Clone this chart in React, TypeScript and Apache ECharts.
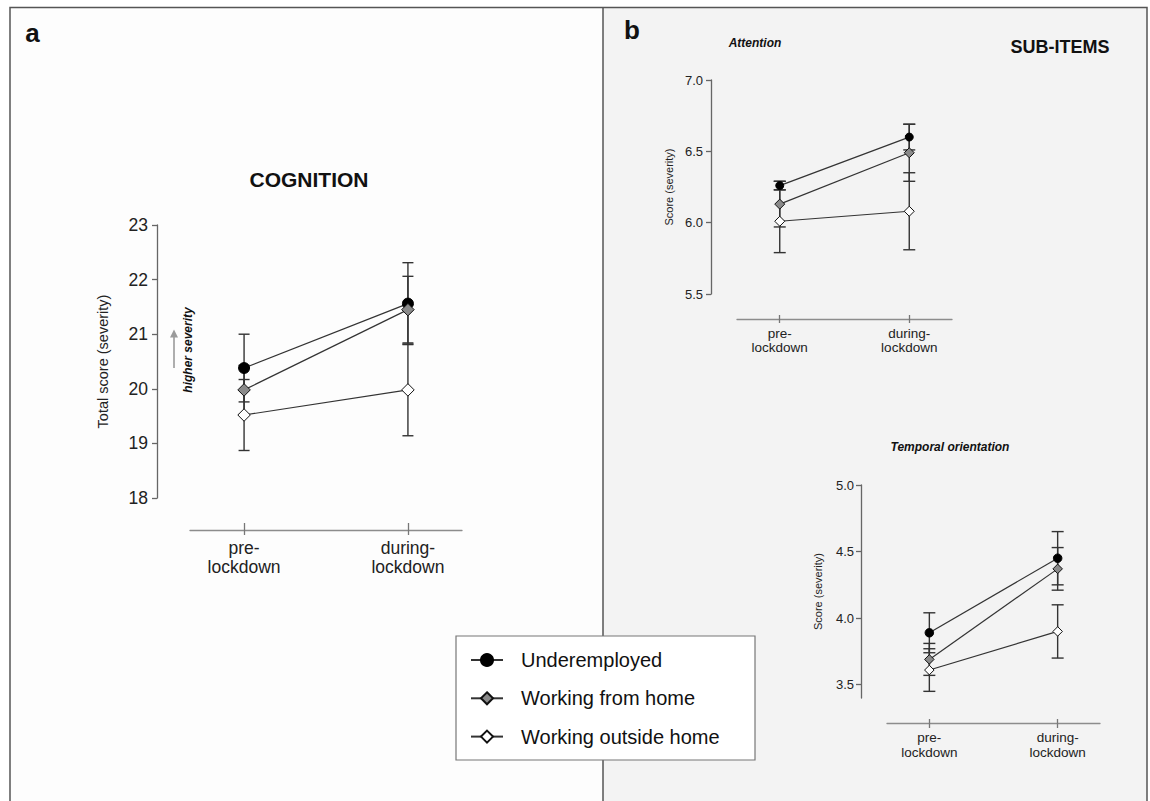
import React, { useEffect, useRef } from "react";
import * as echarts from "echarts";

// ---------- data ----------
const CATEGORIES = ["pre-\nlockdown", "during-\nlockdown"];
const GROUPS = ["Underemployed", "Working from home", "Working outside home"];

// a) Cognition – total score (mean, error)
const COG_UNDER = [20.38, 21.56];
const COG_UNDER_ERR = [0.62, 0.75];
const COG_HOME = [19.98, 21.45];
const COG_HOME_ERR = [0.45, 0.61];
const COG_OUT = [19.52, 19.98];
const COG_OUT_ERR = [0.65, 0.84];
const COG_TICKS = [18, 19, 20, 21, 22, 23];

// b) Attention
const ATT_UNDER = [6.26, 6.6];
const ATT_UNDER_ERR = [0.03, 0.09];
const ATT_HOME = [6.13, 6.49];
const ATT_HOME_ERR = [0.16, 0.2];
const ATT_OUT = [6.01, 6.08];
const ATT_OUT_ERR = [0.22, 0.27];
const ATT_TICKS = [5.5, 6.0, 6.5, 7.0];

// b) Temporal orientation
const TEMP_UNDER = [3.89, 4.45];
const TEMP_UNDER_ERR = [0.15, 0.2];
const TEMP_HOME = [3.69, 4.37];
const TEMP_HOME_ERR = [0.12, 0.16];
const TEMP_OUT = [3.61, 3.9];
const TEMP_OUT_ERR = [0.16, 0.2];
const TEMP_TICKS = [3.5, 4.0, 4.5, 5.0];

// ---------- styles ----------
const FONT = "'Liberation Sans', Arial, Helvetica, sans-serif";
const DARK = "#333";

const GROUP_STYLE = [
  { symbol: "circle", color: "#000", borderColor: "#000" },
  { symbol: "diamond", color: "#8a8a8a", borderColor: "#111" },
  { symbol: "diamond", color: "#ffffff", borderColor: "#111" },
];

type PanelCfg = {
  means: number[][];
  errs: number[][];
  ticks: number[];
  min: number;
  max: number;
  grid: { left: number; top: number; width: number; height: number };
  xOffset: number;
  yOffset: number;
  labelSize: number;
  xLabelSize: number;
  xLabelLineHeight: number;
  xLabelMargin: number;
  yLabelMargin: number;
  nameSize: number;
  nameGap: number;
  yName: string;
  decimals: number;
  cap: number;
  circleSize: number;
  diamondSize: number;
  tickUp: number;
  tickDown: number;
};

const PANELS: PanelCfg[] = [
  {
    means: [COG_UNDER, COG_HOME, COG_OUT],
    errs: [COG_UNDER_ERR, COG_HOME_ERR, COG_OUT_ERR],
    ticks: COG_TICKS,
    min: 18,
    max: 23,
    grid: { left: 190, top: 225, width: 272, height: 273 },
    xOffset: 32,
    yOffset: 33,
    labelSize: 17.5,
    xLabelSize: 17.5,
    xLabelLineHeight: 19,
    xLabelMargin: 8,
    yLabelMargin: 9,
    nameSize: 14.5,
    nameGap: 47,
    yName: "Total score (severity)",
    decimals: 0,
    cap: 5.5,
    circleSize: 11,
    diamondSize: 12.5,
    tickUp: 7,
    tickDown: 5,
  },
  {
    means: [ATT_UNDER, ATT_HOME, ATT_OUT],
    errs: [ATT_UNDER_ERR, ATT_HOME_ERR, ATT_OUT_ERR],
    ticks: ATT_TICKS,
    min: 5.5,
    max: 7.0,
    grid: { left: 737, top: 80, width: 215, height: 214 },
    xOffset: 25,
    yOffset: 26,
    labelSize: 13,
    xLabelSize: 13.5,
    xLabelLineHeight: 14.5,
    xLabelMargin: 7,
    yLabelMargin: 8,
    nameSize: 11,
    nameGap: 37,
    yName: "Score (severity)",
    decimals: 1,
    cap: 6,
    circleSize: 8,
    diamondSize: 10,
    tickUp: 4,
    tickDown: 4,
  },
  {
    means: [TEMP_UNDER, TEMP_HOME, TEMP_OUT],
    errs: [TEMP_UNDER_ERR, TEMP_HOME_ERR, TEMP_OUT_ERR],
    ticks: TEMP_TICKS,
    min: 3.4,
    max: 5.0,
    grid: { left: 887, top: 485, width: 213, height: 213 },
    xOffset: 25.5,
    yOffset: 26,
    labelSize: 13,
    xLabelSize: 13.5,
    xLabelLineHeight: 15,
    xLabelMargin: 6.5,
    yLabelMargin: 7,
    nameSize: 11,
    nameGap: 38,
    yName: "Score (severity)",
    decimals: 1,
    cap: 6,
    circleSize: 8.5,
    diamondSize: 9.5,
    tickUp: 4.5,
    tickDown: 4.5,
  },
];

const X_MIN = -0.33;
const X_MAX = 1.33;
const X_POS = [0, 1];

const errorBar = (cap: number) => (_params: any, api: any) => {
  const x = api.value(0);
  const lo = api.coord([x, api.value(1)]);
  const hi = api.coord([x, api.value(2)]);
  const style = { stroke: DARK, lineWidth: 1.4 };
  return {
    type: "group",
    children: [
      { type: "line", shape: { x1: lo[0], y1: lo[1], x2: hi[0], y2: hi[1] }, style },
      { type: "line", shape: { x1: lo[0] - cap, y1: lo[1], x2: lo[0] + cap, y2: lo[1] }, style },
      { type: "line", shape: { x1: hi[0] - cap, y1: hi[1], x2: hi[0] + cap, y2: hi[1] }, style },
    ],
  };
};

function buildOption() {
  const grid: any[] = [];
  const xAxis: any[] = [];
  const yAxis: any[] = [];
  const series: any[] = [];

  PANELS.forEach((p, g) => {
    grid.push({ ...p.grid, containLabel: false });
    // main x axis (labels + downward ticks)
    xAxis.push({
      type: "value",
      gridIndex: g,
      position: "bottom",
      offset: p.xOffset,
      min: X_MIN,
      max: X_MAX,
      axisLine: { show: true, onZero: false, lineStyle: { color: "#8c8c8c", width: 1.3 } },
      axisTick: {
        show: true,
        inside: false,
        length: p.tickDown,
        customValues: X_POS,
        lineStyle: { color: "#777", width: 1.3 },
      },
      axisLabel: {
        show: true,
        customValues: X_POS,
        formatter: (v: number) => CATEGORIES[Math.round(v)] ?? "",
        fontFamily: FONT,
        fontSize: p.xLabelSize,
        lineHeight: p.xLabelLineHeight,
        color: "#222",
        margin: p.xLabelMargin,
      },
      splitLine: { show: false },
    });
    // companion x axis (upward tick half)
    xAxis.push({
      type: "value",
      gridIndex: g,
      position: "bottom",
      offset: p.xOffset,
      min: X_MIN,
      max: X_MAX,
      axisLine: { show: false, onZero: false },
      axisTick: {
        show: true,
        inside: true,
        length: p.tickUp,
        customValues: X_POS,
        lineStyle: { color: "#777", width: 1.3 },
      },
      axisLabel: { show: false },
      splitLine: { show: false },
    });
    yAxis.push({
      type: "value",
      gridIndex: g,
      position: "left",
      offset: p.yOffset,
      min: p.min,
      max: p.max,
      name: p.yName,
      nameLocation: "middle",
      nameRotate: 90,
      nameGap: p.nameGap,
      nameTextStyle: { fontFamily: FONT, fontSize: p.nameSize, color: "#222" },
      axisLine: { show: true, onZero: false, lineStyle: { color: "#666", width: 1.3 } },
      axisTick: {
        show: true,
        inside: false,
        length: 5,
        customValues: p.ticks,
        lineStyle: { color: "#666", width: 1.3 },
      },
      axisLabel: {
        show: true,
        customValues: p.ticks,
        formatter: (v: number) => v.toFixed(p.decimals),
        fontFamily: FONT,
        fontSize: p.labelSize,
        color: "#222",
        margin: p.yLabelMargin,
      },
      splitLine: { show: false },
    });

    GROUPS.forEach((name, i) => {
      const m = p.means[i];
      const e = p.errs[i];
      series.push({
        type: "custom",
        name: `${name} error ${g}`,
        xAxisIndex: g * 2,
        yAxisIndex: g,
        renderItem: errorBar(p.cap),
        encode: { x: 0, y: [1, 2] },
        data: X_POS.map((x, k) => [x, m[k] - e[k], m[k] + e[k]]),
        z: 1,
        silent: true,
      });
    });
    GROUPS.forEach((name, i) => {
      const m = p.means[i];
      const st = GROUP_STYLE[i];
      series.push({
        type: "line",
        name,
        xAxisIndex: g * 2,
        yAxisIndex: g,
        data: X_POS.map((x, k) => [x, m[k]]),
        symbol: st.symbol,
        symbolSize: st.symbol === "circle" ? p.circleSize : p.diamondSize,
        showSymbol: true,
        lineStyle: { color: DARK, width: 1.2 },
        itemStyle: { color: st.color, borderColor: st.borderColor, borderWidth: 1 },
        emphasis: { disabled: true },
        z: 2 + i,
      });
    });
  });

  const text = (t: string, x: number, y: number, size: number, extra: any = {}) => ({
    type: "text",
    x,
    y,
    silent: true,
    style: {
      text: t,
      fontFamily: FONT,
      fontSize: size,
      fill: "#111",
      align: "center",
      verticalAlign: "middle",
      ...extra,
    },
  });

  const graphic: any[] = [
    { type: "rect", shape: { x: 10, y: 7.5, width: 593, height: 800 }, style: { fill: "#fdfdfd" }, silent: true, z: -10 },
    { type: "rect", shape: { x: 603, y: 7.5, width: 544, height: 800 }, style: { fill: "#f3f3f3" }, silent: true, z: -10 },
    {
      type: "polyline",
      shape: { points: [[10, 805], [10, 7.5], [1147, 7.5], [1147, 805]] },
      style: { stroke: "#555", lineWidth: 1.5, fill: null },
      silent: true,
      z: -9,
    },
    { type: "line", shape: { x1: 603, y1: 7.5, x2: 603, y2: 805 }, style: { stroke: "#555", lineWidth: 1.5 }, silent: true, z: -9 },
    { type: "rect", shape: { x: 456, y: 636, width: 299, height: 124 }, style: { fill: "#fff", stroke: "#777", lineWidth: 1.2 }, silent: true, z: -8 },
    text("a", 32.5, 32.5, 26, { fontWeight: "bold" }),
    text("b", 632, 29.5, 26, { fontWeight: "bold" }),
    text("COGNITION", 309, 179, 21, { fontWeight: "bold" }),
    text("SUB-ITEMS", 1060, 47, 18, { fontWeight: "bold" }),
    text("Attention", 755, 43, 12, { fontWeight: "bold", fontStyle: "italic" }),
    text("Temporal orientation", 950, 447, 12, { fontWeight: "bold", fontStyle: "italic" }),
    {
      type: "text",
      x: 188,
      y: 350,
      rotation: Math.PI / 2,
      silent: true,
      style: {
        text: "higher severity",
        fontFamily: FONT,
        fontSize: 12,
        fontWeight: "bold",
        fontStyle: "italic",
        fill: "#111",
        align: "center",
        verticalAlign: "middle",
      },
    },
    { type: "line", shape: { x1: 174, y1: 368, x2: 174, y2: 336 }, style: { stroke: "#9a9a9a", lineWidth: 1.6 }, silent: true },
    { type: "polygon", shape: { points: [[170, 337.5], [178, 337.5], [174, 329.5]] }, style: { fill: "#9a9a9a" }, silent: true },
  ];

  return {
    animation: false,
    backgroundColor: "#ffffff",
    textStyle: { fontFamily: FONT },
    grid,
    xAxis,
    yAxis,
    series,
    graphic,
    legend: {
      data: GROUPS,
      orient: "vertical",
      left: 470,
      top: 649,
      padding: 0,
      itemWidth: 32,
      itemHeight: 15,
      itemGap: 16.3,
      selectedMode: false,
      textStyle: {
        fontFamily: FONT,
        fontSize: 20,
        lineHeight: 22,
        color: "#111",
        padding: [0, 0, 0, 13],
      },
    },
  };
}

export default function App() {
  const ref = useRef<HTMLDivElement>(null);
  useEffect(() => {
    if (!ref.current) return;
    const chart = echarts.init(ref.current, undefined, { renderer: "svg" });
    chart.setOption(buildOption() as any);
    return () => chart.dispose();
  }, []);
  return (
    <div
      ref={ref}
      style={{ position: "absolute", left: 0, top: 0, width: 1150, height: 801 }}
    />
  );
}
